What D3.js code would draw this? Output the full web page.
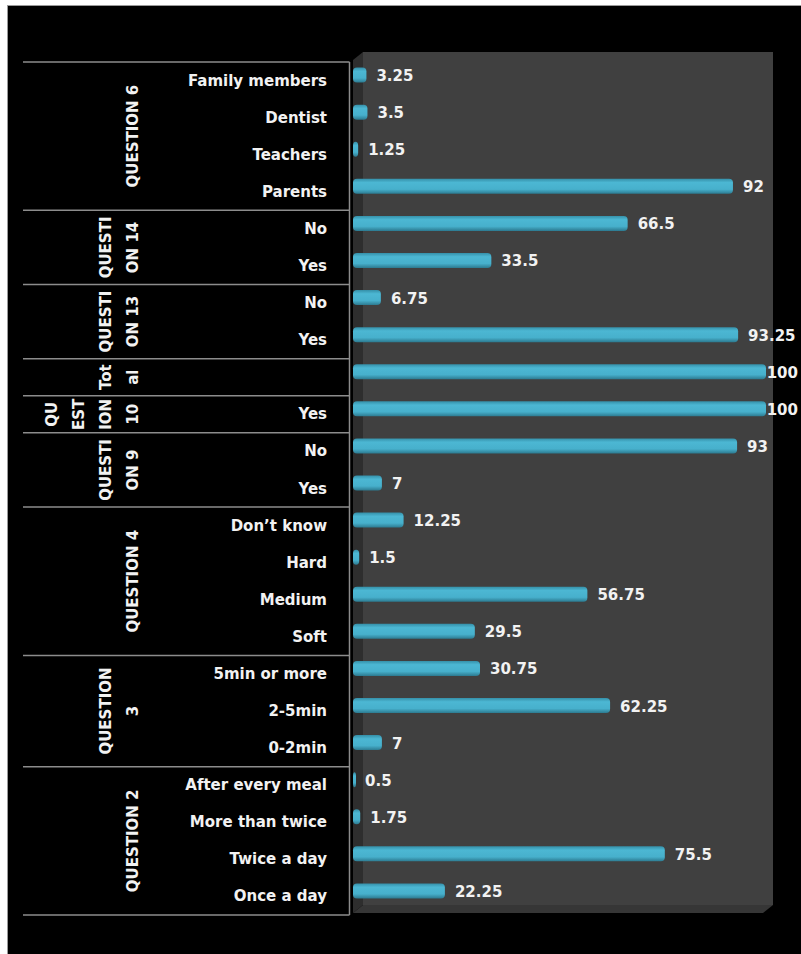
<!DOCTYPE html>
<html>
<head>
<meta charset="utf-8">
<script src="https://cdn.jsdelivr.net/npm/d3@7/dist/d3.min.js"></script>
<style>
  html, body { margin: 0; padding: 0; background: #ffffff; }
  svg { display: block; }
  text { font-family: "DejaVu Sans", Verdana, sans-serif; font-weight: bold; fill: #f2f2f2; }
</style>
</head>
<body>
<svg id="chart" width="801" height="954"></svg>
<script>
// Answers per item, listed top to bottom as drawn
const categories = [
  "Family members", "Dentist", "Teachers", "Parents",
  "No", "Yes",
  "No", "Yes",
  "",
  "Yes",
  "No", "Yes",
  "Don\u2019t know", "Hard", "Medium", "Soft",
  "5min or more", "2-5min", "0-2min",
  "After every meal", "More than twice", "Twice a day", "Once a day"
];
const values = [
  3.25, 3.5, 1.25, 92,
  66.5, 33.5,
  6.75, 93.25,
  100,
  100,
  93, 7,
  12.25, 1.5, 56.75, 29.5,
  30.75, 62.25, 7,
  0.5, 1.75, 75.5, 22.25
];
// Outer category level: wrapped label lines and number of rows in each group
const groupLabels = [
  ["QUESTION 6"],
  ["QUESTI", "ON 14"],
  ["QUESTI", "ON 13"],
  ["Tot", "al"],
  ["QU", "EST", "ION", "10"],
  ["QUESTI", "ON 9"],
  ["QUESTION 4"],
  ["QUESTION", "3"],
  ["QUESTION 2"]
];
const groupSizes = [4, 2, 2, 1, 1, 2, 4, 3, 4];

(function () {
const svg = d3.select("#chart");

// page frame: white margin, black canvas with thin grey edge
svg.append("rect").attr("x", 7.5).attr("y", 5.5).attr("width", 800).attr("height", 960)
  .attr("fill", "#000").attr("stroke", "#9a9a9a").attr("stroke-width", 1);

const x = d3.scaleLinear().domain([0, 100]).range([353, 766]);
const y = d3.scaleBand().domain(d3.range(categories.length)).range([56.5, 909.5]);

// 3D plot box: back wall, side wall, floor
const depth = 10, dz = 8;
const x0 = x(0), boxTop = 52, boxBottom = 905, boxRight = 773;
svg.append("polygon")
  .attr("points", [[x0 + depth, boxTop], [boxRight, boxTop], [boxRight, boxBottom], [x0 + depth, boxBottom]].join(" "))
  .attr("fill", "#404040");
svg.append("polygon")
  .attr("points", [[x0, boxTop + dz], [x0 + depth, boxTop], [x0 + depth, boxBottom], [x0, boxBottom + dz]].join(" "))
  .attr("fill", "#2e2e2e");
svg.append("polygon")
  .attr("points", [[x0, boxBottom + dz], [x0 + depth, boxBottom], [boxRight, boxBottom], [boxRight - depth, boxBottom + dz]].join(" "))
  .attr("fill", "#363636");

// bar shading
const defs = svg.append("defs");
const grad = defs.append("linearGradient").attr("id", "barGrad")
  .attr("x1", 0).attr("y1", 0).attr("x2", 0).attr("y2", 1);
grad.append("stop").attr("offset", "0%").attr("stop-color", "#3590a9");
grad.append("stop").attr("offset", "25%").attr("stop-color", "#4cb7d3");
grad.append("stop").attr("offset", "70%").attr("stop-color", "#47b0cc");
grad.append("stop").attr("offset", "100%").attr("stop-color", "#2c7a90");

const barH = 15;
const rows = values.map((v, i) => ({ i, v, cat: categories[i] }));

svg.append("g").selectAll("rect").data(rows).join("rect")
  .attr("x", x0)
  .attr("y", d => y(d.i) + y.bandwidth() / 2 - barH / 2)
  .attr("width", d => Math.max(3, x(d.v) - x0))
  .attr("height", barH)
  .attr("rx", 4).attr("ry", 4)
  .attr("fill", "url(#barGrad)");

// value labels at bar ends, kept inside the canvas
const vl = svg.append("g").selectAll("text").data(rows).join("text")
  .attr("font-size", 15)
  .attr("dominant-baseline", "central")
  .attr("y", d => y(d.i) + y.bandwidth() / 2 + 1)
  .text(d => d.v);
vl.each(function (d) {
  const w = this.getComputedTextLength();
  const xs = Math.max(x0, x(d.v)) + 10;
  d3.select(this).attr("x", Math.min(xs, 798 - w));
});

// category axis (drawn in front of the box, shifted by the depth offset)
const ax = 349.5, ay = 5.5;
const axis = svg.append("g");
svg.append("g").selectAll("text").data(rows).join("text")
  .attr("font-size", 15)
  .attr("text-anchor", "end")
  .attr("dominant-baseline", "central")
  .attr("x", 327)
  .attr("y", d => y(d.i) + y.bandwidth() / 2 + ay)
  .text(d => d.cat);

const starts = [0];
groupSizes.forEach(n => starts.push(starts[starts.length - 1] + n));
const edgeY = k => (k < categories.length ? y(k) : y.range()[1]) + ay;

axis.append("line")
  .attr("x1", ax).attr("x2", ax)
  .attr("y1", edgeY(0)).attr("y2", edgeY(categories.length))
  .attr("stroke", "#8c8c8c").attr("stroke-width", 1.5);
axis.selectAll("line.sep").data(starts).join("line").attr("class", "sep")
  .attr("x1", 23).attr("x2", ax)
  .attr("y1", k => edgeY(k)).attr("y2", k => edgeY(k))
  .attr("stroke", "#8c8c8c").attr("stroke-width", 1.5);

// outer group labels, rotated, wrapped lines stacked leftwards
const lineGap = 27, lastX = 133;
groupLabels.forEach((lines, g) => {
  const cy = (edgeY(starts[g]) + edgeY(starts[g + 1])) / 2;
  lines.forEach((t, j) => {
    const cx = lastX - (lines.length - 1 - j) * lineGap;
    svg.append("text")
      .attr("font-size", 15)
      .attr("text-anchor", "middle")
      .attr("dominant-baseline", "central")
      .attr("transform", `translate(${cx},${cy}) rotate(-90)`)
      .text(t);
  });
});
})();
</script>
</body>
</html>
